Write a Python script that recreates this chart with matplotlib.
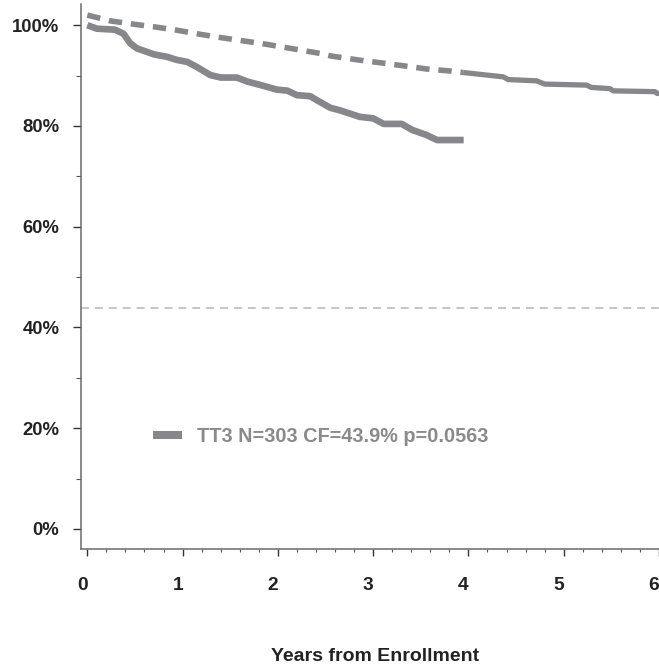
import numpy as np
import matplotlib
matplotlib.use('Agg')
import matplotlib.pyplot as plt
from matplotlib.lines import Line2D
from matplotlib.ticker import MultipleLocator, FuncFormatter
from matplotlib.transforms import ScaledTranslation

plt.rcParams['font.family'] = ['Liberation Sans', 'DejaVu Sans']
plt.rcParams['font.weight'] = 'bold'

# ---- data (years, percent) ----
km_years = [0, 0.10, 0.29, 0.38, 0.45, 0.52, 0.70, 0.84, 0.94, 1.05, 1.15,
            1.29, 1.40, 1.57, 1.68, 1.82, 1.99, 2.10, 2.20, 2.34, 2.41, 2.55,
            2.65, 2.86, 3.00, 3.11, 3.30, 3.41, 3.56, 3.67, 3.95]
km_pct = [100, 99.3, 99.1, 98.3, 96.4, 95.4, 94.2, 93.7, 93.1, 92.7, 91.7,
          90.1, 89.6, 89.6, 88.8, 88.1, 87.2, 87.0, 86.1, 85.9, 85.1, 83.6,
          83.1, 81.8, 81.5, 80.4, 80.4, 79.2, 78.2, 77.2, 77.2]

# expected curve, dashed part
exp_years = [0, 0.24, 0.48, 0.69, 0.94, 1.18, 1.39, 1.63, 1.88, 2.13, 2.44,
             2.565, 2.86, 3.09, 3.33, 3.56, 3.81, 3.945]
exp_pct = [102.0, 100.85, 100.2, 99.7, 99.0, 98.2, 97.56, 96.9, 96.2, 95.4,
           94.4, 93.85, 93.05, 92.5, 91.9, 91.3, 90.9, 90.6]

# expected curve, solid continuation
tail_years = [3.945, 4.365, 4.418, 4.715, 4.80, 5.24, 5.29, 5.485, 5.52, 5.957, 5.98, 6.05]
tail_pct = [90.6, 89.74, 89.2, 88.95, 88.3, 88.1, 87.64, 87.4, 86.96, 86.8, 86.45, 86.45]

cure_fraction = 43.9
legend_label = 'TT3 N=303 CF=43.9% p=0.0563'

curve_color = '#86878a'

fig = plt.figure(figsize=(6.59, 6.65), dpi=100)
ax = fig.add_axes([0.1225, 0.174, 0.8775, 0.820])

ax.plot(exp_years, exp_pct, color=curve_color, lw=4.0,
        dashes=(2.4, 1.6), dash_capstyle='butt')
ax.plot(tail_years, tail_pct, color=curve_color, lw=3.8,
        solid_capstyle='butt', solid_joinstyle='round')
ax.plot(km_years, km_pct, color=curve_color, lw=4.8, solid_capstyle='butt',
        solid_joinstyle='round')
ax.axhline(cure_fraction, color='#b5b5b5', lw=1.1, dashes=(5.2, 3.9))

ax.set_xlim(-0.069, 6.0)
ax.set_ylim(-4.03, 104.2)

for side in ['top', 'right']:
    ax.spines[side].set_visible(False)
for side in ['left', 'bottom']:
    ax.spines[side].set_color('#6a6a6a')
    ax.spines[side].set_linewidth(1.1)

ax.xaxis.set_major_locator(MultipleLocator(1))
ax.xaxis.set_minor_locator(MultipleLocator(0.2))
ax.yaxis.set_major_locator(MultipleLocator(20))
ax.yaxis.set_minor_locator(MultipleLocator(10))
ax.yaxis.set_major_formatter(FuncFormatter(lambda v, p: f'{v:.0f}%'))

ax.tick_params(axis='y', which='major', length=5.8, width=1.0, color='#333333',
               pad=9.6, labelsize=13.3, labelcolor='#222222')
ax.tick_params(axis='y', which='minor', length=3.5, width=0.8, color='#555555')
ax.tick_params(axis='x', which='major', length=5.0, width=1.0, color='#333333',
               pad=15, labelsize=13.8, labelcolor='#222222')
ax.tick_params(axis='x', which='minor', length=2.5, width=0.8, color='#555555')

shift = ScaledTranslation(-0.05, 0, fig.dpi_scale_trans)
for lab in ax.get_xticklabels():
    lab.set_transform(lab.get_transform() + shift)

handle = Line2D([], [], color=curve_color, lw=5.8, solid_capstyle='butt')
ax.legend(handles=[handle], labels=[legend_label], loc='center left',
          bbox_to_anchor=(153 / 659, 1 - 436 / 665), bbox_transform=fig.transFigure,
          frameon=False, handlelength=1.46, handletextpad=0.75, borderaxespad=0,
          borderpad=0, labelcolor='#8a8a8a', prop={'size': 14.3, 'weight': 'bold'})

fig.text(375 / 659, 1 - 660.7 / 665, 'Years from Enrollment', ha='center',
         va='baseline', fontsize=14, fontweight='bold', color='#222222')

fig.savefig('out.png', dpi=100)
